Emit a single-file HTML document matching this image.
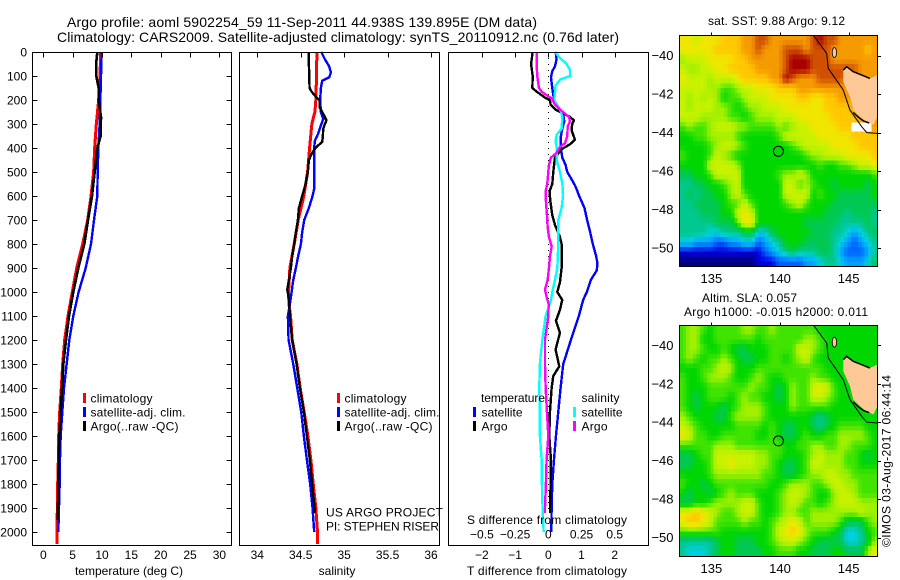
<!DOCTYPE html>
<html lang="en">
<head>
<meta charset="utf-8">
<title>Argo profile 5902254_59</title>
<style>
html,body{margin:0;padding:0;background:#fff;}
svg{display:block;}
text{font-family:"Liberation Sans",sans-serif;font-size:12px;fill:#000;}
.title{font-size:14px;}
.maplab{font-size:13px;}
</style>
</head>
<body>
<svg id="chart" xmlns="http://www.w3.org/2000/svg" width="900" height="580" viewBox="0 0 900 580">
  <defs>
    <clipPath id="clip-map1"><rect x="679.5" y="35.5" width="198" height="231"/></clipPath>
    <clipPath id="clip-map2"><rect x="679.5" y="325.5" width="198" height="231"/></clipPath>
  </defs>
  <rect x="0" y="0" width="900" height="580" fill="#fff"/>

  <text class="title" x="67" y="27" textLength="470">Argo profile: aoml 5902254_59 11-Sep-2011 44.938S 139.895E (DM data)</text>
  <text class="title" x="57" y="42" textLength="562">Climatology: CARS2009. Satellite-adjusted climatology: synTS_20110912.nc (0.76d later)</text>

  <g id="temp-panel"></g>
  <g id="sal-panel"></g>
  <g id="diff-panel"></g>
  <g id="map1"></g>
  <g id="map2"></g>

  <g>
    <rect x="83" y="393" width="3" height="10" fill="#ff0000"/>
    <rect x="83" y="407" width="3" height="10" fill="#0000ff"/>
    <rect x="83" y="421" width="3" height="10" fill="#000000"/>
    <text x="90.5" y="402.5" textLength="62">climatology</text>
    <text x="90.5" y="416.5" textLength="95">satellite-adj. clim.</text>
    <text x="90.5" y="430.5" textLength="88">Argo(..raw -QC)</text>
  </g>
  <g>
    <rect x="337" y="393" width="3" height="10" fill="#ff0000"/>
    <rect x="337" y="407" width="3" height="10" fill="#0000ff"/>
    <rect x="337" y="421" width="3" height="10" fill="#000000"/>
    <text x="344.5" y="402.5" textLength="62">climatology</text>
    <text x="344.5" y="416.5" textLength="95">satellite-adj. clim.</text>
    <text x="344.5" y="430.5" textLength="88">Argo(..raw -QC)</text>
  </g>
  <text x="326" y="516.5" textLength="117">US ARGO PROJECT</text>
  <text x="326" y="530.5" textLength="113">PI: STEPHEN RISER</text>

  <g>
    <text x="481" y="402" textLength="64">temperature</text>
    <text x="581.5" y="402" textLength="38">salinity</text>
    <rect x="473" y="407" width="3" height="10" fill="#0000ff"/>
    <rect x="473" y="421" width="3" height="10" fill="#000000"/>
    <rect x="573" y="407" width="3" height="10" fill="#00ffff"/>
    <rect x="573" y="421" width="3" height="10" fill="#ff00ff"/>
    <text x="481.5" y="416.5" textLength="41">satellite</text>
    <text x="481.5" y="430.5" textLength="26">Argo</text>
    <text x="581.5" y="416.5" textLength="41">satellite</text>
    <text x="581.5" y="430.5" textLength="26">Argo</text>
  </g>

  <text x="129" y="575" text-anchor="middle">temperature (deg C)</text>
  <text x="337" y="575" text-anchor="middle">salinity</text>
  <text x="467" y="575" textLength="160">T difference from climatology</text>
  <text x="467" y="524" textLength="160">S difference from climatology</text>

  <text x="708" y="25" textLength="137">sat. SST: 9.88  Argo: 9.12</text>
  <text x="702" y="302" textLength="95">Altim. SLA: 0.057</text>
  <text x="684" y="316" textLength="184">Argo h1000: -0.015 h2000: 0.011</text>
  <text transform="translate(890.5 547) rotate(-90)" textLength="172">©IMOS 03-Aug-2017 06:44:14</text>
</svg>
<script>
// ---------- axis ticks ----------
const depthTicks = [0,100,200,300,400,500,600,700,800,900,1000,1100,1200,1300,1400,1500,1600,1700,1800,1900,2000];
const tempTicks = [0,5,10,15,20,25,30];
const salTicks = [34,34.5,35,35.5,36];
const tDiffTicks = [-2,-1,0,1,2];
const sDiffTicks = [-0.5,-0.25,0,0.25,0.5];
const lonTicks = [135,140,145];
const latTicks1 = [-40,-42,-44,-46,-48,-50];
const latTicks2 = [-40,-42,-44,-46,-48,-50];

// ---------- temperature profiles ----------
const tempClimDepth = [0,100,200,300,400,500,600,700,800,900,1000,1100,1200,1300,1400,1500,1600,1700,1800,1900,2000,2050];
const tempClim = [9.77,9.66,9.43,9.03,8.75,8.58,8.13,7.56,6.71,5.69,4.94,4.21,3.64,3.30,3.07,2.79,2.62,2.56,2.45,2.39,2.33,2.33];
const tempSatDepth = [0,100,200,300,400,500,600,700,800,900,1000,1100,1200,1300,1400,1500,1600,1700,1800,1900,2000];
const tempSat = [9.95,9.83,9.72,9.6,9.38,9.26,9.2,8.64,8.13,7.22,6.02,5.11,4.43,3.98,3.53,3.24,2.96,2.84,2.79,2.67,2.56];
const tempArgoDepth = [0,50,100,150,200,270,350,400,500,600,700,800,900,1000,1100,1200,1300,1400,1500,1600,1700,1800,1900,1950];
const tempArgo = [9.2,9.0,9.03,9.43,9.43,9.83,9.77,9.2,8.75,8.3,7.62,6.99,5.97,5.11,4.38,3.87,3.41,3.19,2.96,2.73,2.62,2.56,2.50,2.45];

// ---------- salinity profiles ----------
const salClimDepth = [0,100,200,250,300,400,500,600,700,800,900,1000,1050,1100,1200,1300,1400,1500,1600,1700,1800,1900,2000,2050];
const salClim = [34.686,34.682,34.674,34.663,34.628,34.602,34.579,34.536,34.471,34.425,34.375,34.360,34.364,34.383,34.402,34.456,34.494,34.540,34.582,34.617,34.644,34.674,34.693,34.693];
const salSatDepth = [0,30,60,85,105,120,150,200,250,280,310,340,370,400,500,570,600,650,700,750,800,850,900,950,1000,1050,1100,1200,1300,1400,1500,1600,1700,1800,1900,2000];
const salSat = [34.736,34.778,34.828,34.847,34.828,34.747,34.732,34.724,34.732,34.759,34.728,34.701,34.663,34.655,34.655,34.655,34.636,34.594,34.540,34.517,34.502,34.471,34.444,34.414,34.395,34.375,34.352,34.360,34.414,34.460,34.506,34.536,34.571,34.609,34.636,34.655];
const salArgoDepth = [0,50,100,150,165,190,200,230,250,270,285,300,320,350,375,395,420,450,500,550,600,650,700,750,800,850,900,950,990,1020,1050,1100,1200,1300,1400,1500,1600,1700,1800,1900,1920];
const salArgo = [34.594,34.594,34.598,34.602,34.625,34.682,34.716,34.716,34.747,34.778,34.797,34.778,34.759,34.755,34.747,34.682,34.632,34.594,34.582,34.556,34.517,34.479,34.467,34.444,34.425,34.402,34.387,34.364,34.345,34.360,34.368,34.375,34.402,34.452,34.490,34.536,34.571,34.605,34.632,34.659,34.663];

// ---------- difference profiles ----------
const dTSatDepth = [0,30,60,80,105,150,180,210,240,260,290,320,350,400,440,470,500,530,560,600,650,700,750,800,850,880,910,950,1000,1033,1100,1200,1300,1400,1500,1600,1700,1800,1900,2000];
const dTSat = [0.22,0.25,0.20,0.12,0.08,0.12,0.15,0.20,0.35,0.45,0.48,0.42,0.38,0.38,0.42,0.52,0.57,0.70,0.82,0.93,1.09,1.17,1.26,1.34,1.44,1.48,1.46,1.28,1.16,1.05,0.92,0.68,0.45,0.37,0.30,0.23,0.17,0.12,0.10,0.09];
const dTArgoDepth = [0,50,100,150,165,190,200,220,240,270,285,300,325,365,385,405,440,500,550,580,620,680,720,770,800,900,960,1000,1033,1075,1120,1170,1240,1310,1350,1400,1500,1600,1700,1800,1900,1920];
const dTArgo = [-0.47,-0.52,-0.47,-0.48,-0.35,-0.10,0.05,0.07,0.22,0.65,0.77,0.72,0.70,0.80,0.65,0.40,0.20,0.15,0.12,0.04,0.06,0.12,0.20,0.35,0.40,0.40,0.35,0.27,0.42,0.35,0.23,0.35,0.22,0.33,0.15,0.10,0.05,0.03,0.08,0.07,0.05,0.05];
const dSSatDepth = [0,25,50,75,100,115,140,170,200,240,270,320,345,370,400,450,500,550,600,650,700,800,900,950,1000,1033,1100,1200,1300,1400,1500,1600,1700,1800,1900,2000];
const dSSat = [0.05,0.088,0.138,0.163,0.163,0.088,0.055,0.05,0.045,0.088,0.106,0.10,0.063,0.055,0.063,0.063,0.088,0.106,0.111,0.10,0.075,0.075,0.068,0.05,0.03,0.02,-0.02,-0.045,-0.063,-0.068,-0.063,-0.063,-0.05,-0.048,-0.043,-0.035];
const dSArgoDepth = [0,50,100,150,165,180,195,215,240,270,290,310,350,380,395,420,440,470,500,550,580,620,680,730,770,810,850,900,950,990,1020,1050,1100,1200,1300,1400,1500,1600,1700,1800,1900,1920];
const dSArgo = [-0.088,-0.088,-0.083,-0.07,-0.05,-0.013,0.03,0.045,0.088,0.156,0.163,0.146,0.143,0.126,0.088,0.063,0.02,0.005,0,-0.008,-0.02,-0.018,-0.01,-0.005,0.005,0.025,0.013,0.005,-0.005,-0.025,-0.013,0.003,0,-0.025,-0.025,-0.02,-0.01,0,-0.013,-0.018,-0.025,-0.025];
const zeroLineDepths = [0,1920];

// ---------- map grids: colour level per 0.5 degree cell, null = no data ----------
const sstLevels = [
[11,11,10,11,11,11,12,12,12,13,13,14,14,13,13,13,13,13,13,14,15,14,14,13,13,13,13,13,13],
[11,11,11,11,11,12,12,12,12,13,13,14,13,13,13,14,14,14,13,14,14,14,13,13,13,13,13,12,13],
[9,10,10,10,11,11,11,11,12,12,13,13,13,13,13,14,15,15,15,14,14,14,13,13,13,13,13,13,13],
[10,9,9,10,10,11,11,12,12,12,12,13,13,13,13,14,15,15,15,14,14,14,14,14,14,14,13,13,13],
[11,10,10,10,9,10,10,10,11,12,12,12,12,13,13,15,14,13,13,13,14,14,14,14,13,13,13,13,13],
[10,10,10,10,9,9,8,8,9,10,10,11,11,11,12,12,12,13,13,13,13,13,13,13,13,13,13,13,13],
[10,9,10,9,10,9,7,8,8,9,10,10,10,11,11,11,11,12,12,11,11,12,12,13,13,13,13,13,13],
[10,9,10,10,10,9,9,8,7,8,9,9,10,10,10,11,11,11,11,11,11,12,12,12,12,13,13,13,13],
[10,10,10,9,9,9,9,8,8,7,8,9,9,9,10,10,10,11,11,11,11,11,12,12,12,12,13,13,13],
[8,9,8,8,9,10,10,10,9,9,8,8,8,8,9,8,9,10,10,11,11,11,11,12,12,null,null,null,13],
[7,7,8,8,9,9,9,9,8,7,7,7,7,7,8,10,10,10,10,10,11,11,11,11,11,12,12,12,12],
[7,7,7,7,8,9,10,10,9,8,7,7,7,7,7,7,8,9,10,10,10,10,11,11,11,11,12,12,12],
[8,7,7,7,8,10,9,8,7,7,7,7,7,7,7,7,7,7,8,9,9,10,10,10,11,11,11,11,12],
[7,7,7,7,10,10,10,10,9,7,7,7,7,7,7,7,7,7,7,7,8,7,7,8,8,9,10,10,11],
[6,6,7,7,8,10,10,10,10,7,7,7,7,7,8,9,9,10,9,7,7,7,7,7,7,7,7,7,8],
[5,5,6,6,7,7,8,9,10,7,7,7,7,7,7,10,10,8,9,8,7,7,6,7,7,7,7,6,7],
[5,6,5,6,6,7,7,9,10,8,7,7,7,7,7,10,10,10,10,7,8,7,7,6,6,6,6,6,7],
[5,5,6,6,6,6,7,8,8,10,8,7,7,7,7,8,9,10,8,7,7,7,6,6,6,6,6,6,6],
[5,5,5,6,6,6,7,7,10,11,10,7,7,7,7,7,7,7,7,7,7,6,6,6,5,6,6,6,5],
[5,5,5,5,5,6,6,6,8,11,11,7,7,7,7,7,7,7,6,6,6,6,6,5,5,5,5,6,5],
[5,5,5,5,4,4,5,5,5,6,6,4,4,6,7,7,7,7,7,6,6,6,5,5,4,3,4,5,6],
[4,4,3,3,3,2,2,3,3,4,4,2,3,4,5,7,7,7,6,6,6,6,5,4,3,2,3,4,5],
[1,1,1,1,1,1,1,1,1,1,1,1,2,3,4,5,6,5,5,5,6,6,5,3,2,2,2,3,5],
[0,0,0,0,0,0,0,0,0,0,0,1,1,1,2,2,2,2,3,3,4,5,5,4,3,3,3,4,6]
];
const slaLevels = [
[8,9,9,8,7,8,8,8,8,9,9,8,8,9,8,8,8,8,8,8,7,7,7,7,7,7,7,7,7],
[8,9,9,7,7,8,8,8,8,8,8,7,8,8,8,8,8,8,9,9,8,7,7,7,7,7,7,7,7],
[8,9,9,8,7,7,8,7,6,6,7,7,7,8,8,8,8,10,10,9,8,7,7,7,7,7,7,7,7],
[8,9,8,7,8,8,9,8,7,6,6,7,7,8,8,7,8,9,10,8,7,7,7,7,7,7,7,7,7],
[7,7,7,8,8,9,10,9,7,7,7,8,8,8,8,8,8,8,8,8,8,7,7,7,7,7,7,7,7],
[8,7,7,8,9,9,9,8,7,7,8,9,8,7,7,8,8,8,8,9,8,8,7,7,7,7,7,7,7],
[8,7,7,7,8,8,8,8,8,8,9,8,8,7,6,7,9,8,8,10,11,10,8,7,7,7,7,7,7],
[8,7,6,7,8,8,8,7,8,9,8,8,7,7,6,7,9,8,8,10,10,9,8,7,7,7,7,7,7],
[8,7,6,7,7,7,6,7,8,9,9,9,8,7,7,7,9,8,8,8,8,8,7,7,7,7,7,7,7],
[9,8,7,7,7,6,6,8,9,9,9,9,8,7,7,7,7,7,7,6,5,6,7,7,7,7,7,7,7],
[10,9,8,7,7,7,7,7,8,8,8,8,7,8,7,6,6,7,7,6,5,6,7,8,8,8,8,7,7],
[11,10,8,8,7,7,8,8,8,8,8,7,7,8,7,6,6,7,8,7,7,8,8,9,9,9,9,8,7],
[8,8,8,8,8,9,9,9,8,8,8,8,8,8,8,7,7,8,8,9,9,8,8,9,9,8,8,8,7],
[6,6,7,8,8,10,10,10,10,10,10,9,9,8,8,7,7,7,8,9,10,9,9,9,8,8,7,6,7],
[6,6,7,7,8,10,10,11,10,10,10,9,9,8,7,6,6,7,8,10,10,9,9,9,8,8,7,7,7],
[7,7,7,7,8,9,9,9,9,9,9,9,8,8,7,6,6,7,8,9,9,10,10,9,9,8,8,8,8],
[8,7,7,6,7,8,8,8,8,8,8,8,8,7,7,8,9,9,9,8,8,9,10,10,9,9,8,8,8],
[7,6,7,7,6,7,8,9,8,8,8,7,7,7,8,9,10,10,9,8,7,7,9,10,10,9,8,8,8],
[6,6,7,7,8,9,9,9,9,10,10,8,7,7,8,9,10,9,8,8,7,8,9,10,10,10,9,9,9],
[11,11,12,11,10,9,8,8,9,10,10,8,7,7,8,9,9,8,8,9,9,9,9,9,9,9,10,9,9],
[11,12,12,11,10,8,8,8,8,9,8,8,7,8,9,10,11,10,8,9,9,9,9,8,6,6,6,8,9],
[8,8,8,8,8,8,7,7,7,7,7,7,7,8,10,11,12,11,9,8,8,8,7,6,4,4,5,7,8],
[5,5,5,5,5,6,7,7,6,6,6,7,7,8,9,10,10,9,8,7,6,6,6,6,4,4,5,6,9],
[5,4,4,4,5,6,7,7,6,6,6,6,7,7,8,8,8,7,7,6,6,6,7,7,6,6,6,9,11]
];
const levelColors = ['#00007f','#0000e0','#0060ff','#00a0ff','#00d0e0','#00c890','#00c850','#00d600','#40e400','#a0f000','#c8f200','#f0e600','#ffc800','#f59a00','#d05000','#a80000'];

// ---------- map geography (lon / lat) ----------
const coastLon = [142.43,143.4,143.52,144.61,145.1,145.95,146.32,147.1];
const coastLat = [-38.94,-39.88,-40.66,-41.79,-42.83,-43.69,-44.0,-44.04];
const tasLon = [144.61,144.85,145.34,146.55,147.1,147.1,146.8,146.1,145.34,145.1,144.61];
const tasLat = [-40.75,-40.57,-40.83,-41.18,-41.0,-43.17,-43.6,-43.34,-42.83,-42.13,-41.35];
const tasNorthLon = [144.61,144.85,145.34,146.0,146.55];
const tasNorthLat = [-40.75,-40.57,-40.83,-41.02,-41.18];
const tasSouthLon = [145.34,145.7,146.1,146.5];
const tasSouthLat = [-42.95,-43.2,-43.4,-43.5];
const floatLon = [139.88];
const floatLat = [-44.97];
const kingIslandLon = [143.96];
const kingIslandLat = [-39.84];

// ---------- axis functions ----------
const yDepth = d => 52 + 0.24 * d;
const xTemp = t => 43.3 + 5.87 * t;
const xSal = s => 257.3 + 86.85 * (s - 34);
const xDT = t => 548.3 + 33.2 * t;
const xDS = s => 548.3 + 132.8 * s;
const mapX = lon => 780 + (lon - 140) * 13.73;
const map1Y = lat => 55.7 - (lat + 40) * 19.23;
const map2Y = lat => 345.3 - (lat + 40) * 19.23;

const NS = 'http://www.w3.org/2000/svg';
function mk(tag, parent) {
  const el = document.createElementNS(NS, tag);
  parent.appendChild(el);
  return el;
}
function lineEl(parent, x1, y1, x2, y2) {
  const el = mk('line', parent);
  el.setAttribute('x1', x1);
  el.setAttribute('y1', y1);
  el.setAttribute('x2', x2);
  el.setAttribute('y2', y2);
  el.setAttribute('stroke', '#000');
  el.setAttribute('stroke-width', '1');
  el.setAttribute('shape-rendering', 'crispEdges');
  return el;
}
function labelEl(parent, x, y, str, anchor, cls) {
  const el = mk('text', parent);
  el.setAttribute('x', x);
  el.setAttribute('y', y);
  el.setAttribute('text-anchor', anchor);
  if (cls) el.setAttribute('class', cls);
  el.textContent = str;
  return el;
}
function frameEl(parent, x, y, w, h) {
  const el = mk('rect', parent);
  el.setAttribute('x', x);
  el.setAttribute('y', y);
  el.setAttribute('width', w);
  el.setAttribute('height', h);
  el.setAttribute('fill', 'none');
  el.setAttribute('stroke', '#000');
  el.setAttribute('stroke-width', '1');
  el.setAttribute('shape-rendering', 'crispEdges');
  return el;
}
function profileEl(parent, depths, values, xFn, color, width) {
  const el = mk('polyline', parent);
  el.setAttribute('points', depths.map((d, i) => xFn(values[i]).toFixed(2) + ',' + yDepth(d).toFixed(2)).join(' '));
  el.setAttribute('fill', 'none');
  el.setAttribute('stroke', color);
  el.setAttribute('stroke-width', width);
  el.setAttribute('stroke-linejoin', 'round');
  el.setAttribute('shape-rendering', 'crispEdges');
  return el;
}
const fmt = v => String(v).replace('-', '\u2212');

// ---------- temperature panel ----------
const tempPanel = document.getElementById('temp-panel');
const tClimLine = profileEl(tempPanel, tempClimDepth, tempClim, xTemp, '#ff0000', 3);


const tSatLine = profileEl(tempPanel, tempSatDepth, tempSat, xTemp, '#0000ff', 2.4);


const tArgoLine = profileEl(tempPanel, tempArgoDepth, tempArgo, xTemp, '#000000', 2.6);


const tempFrame = frameEl(tempPanel, 32.5, 52.5, 199, 493);


depthTicks.forEach(d => {
  const l = lineEl(tempPanel, 32.5, Math.round(yDepth(d)) + 0.5, 37.5, Math.round(yDepth(d)) + 0.5);
  
  
  const r = lineEl(tempPanel, 226.5, Math.round(yDepth(d)) + 0.5, 231.5, Math.round(yDepth(d)) + 0.5);
  
  
  const t = labelEl(tempPanel, 27, yDepth(d) + 4.5, d, 'end');
  
  
});
tempTicks.forEach(v => {
  const l = lineEl(tempPanel, Math.round(xTemp(v)) + 0.5, 52.5, Math.round(xTemp(v)) + 0.5, 57.5);
  
  
  const t = labelEl(tempPanel, xTemp(v), 559, fmt(v), 'middle');
  
  
});

// ---------- salinity panel ----------
const salPanel = document.getElementById('sal-panel');
const sClimLine = profileEl(salPanel, salClimDepth, salClim, xSal, '#ff0000', 3);


const sSatLine = profileEl(salPanel, salSatDepth, salSat, xSal, '#0000ff', 2.4);


const sArgoLine = profileEl(salPanel, salArgoDepth, salArgo, xSal, '#000000', 2.4);


const salFrame = frameEl(salPanel, 239.5, 52.5, 200, 493);


salTicks.forEach(v => {
  const l = lineEl(salPanel, Math.round(xSal(v)) + 0.5, 52.5, Math.round(xSal(v)) + 0.5, 57.5);
  
  
  const t = labelEl(salPanel, xSal(v), 559, fmt(v), 'middle');
  
  
});

// ---------- difference panel ----------
const diffPanel = document.getElementById('diff-panel');
const zeroLine = lineEl(diffPanel, xDT(0), yDepth(zeroLineDepths[0]), xDT(0), yDepth(zeroLineDepths[1]));
zeroLine.setAttribute('stroke-dasharray', '1 5');


const dtSatLine = profileEl(diffPanel, dTSatDepth, dTSat, xDT, '#0000ff', 2.4);


const dtArgoLine = profileEl(diffPanel, dTArgoDepth, dTArgo, xDT, '#000000', 2.4);


const dsSatLine = profileEl(diffPanel, dSSatDepth, dSSat, xDS, '#00ffff', 2.4);


const dsArgoLine = profileEl(diffPanel, dSArgoDepth, dSArgo, xDS, '#ff00ff', 2.4);


const diffFrame = frameEl(diffPanel, 448.5, 52.5, 200, 493);


tDiffTicks.forEach(v => {
  const l = lineEl(diffPanel, Math.round(xDT(v)) + 0.5, 52.5, Math.round(xDT(v)) + 0.5, 57.5);
  
  
  const t = labelEl(diffPanel, xDT(v), 559, fmt(v), 'middle');
  
  
});
sDiffTicks.forEach(v => {
  const t = labelEl(diffPanel, xDS(v), 538.5, fmt(v), 'middle');
  
  
});

// ---------- maps ----------
// Continuous colour scale across the palette stops.
function levelColor(v) {
  const t = Math.max(0, Math.min(levelColors.length - 1, v));
  const a = Math.floor(t);
  const b = Math.min(levelColors.length - 1, a + 1);
  const f = t - a;
  const ch = (hex, k) => parseInt(hex.substr(1 + k * 2, 2), 16);
  const mix = k => Math.round(ch(levelColors[a], k) * (1 - f) + ch(levelColors[b], k) * f);
  return 'rgb(' + mix(0) + ',' + mix(1) + ',' + mix(2) + ')';
}
// Bilinear sample of the level grid at fractional row/col; null cells fall back to nearest valid.
function sampleGrid(levels, rowF, colF) {
  const rows = levels.length, cols = levels[0].length;
  const r0 = Math.max(0, Math.min(rows - 1, Math.floor(rowF)));
  const c0 = Math.max(0, Math.min(cols - 1, Math.floor(colF)));
  const r1 = Math.min(rows - 1, r0 + 1), c1 = Math.min(cols - 1, c0 + 1);
  const fr = Math.max(0, Math.min(1, rowF - r0)), fc = Math.max(0, Math.min(1, colF - c0));
  const pts = [[r0, c0, (1 - fr) * (1 - fc)], [r0, c1, (1 - fr) * fc], [r1, c0, fr * (1 - fc)], [r1, c1, fr * fc]];
  let sum = 0, w = 0;
  pts.forEach(p => {
    const v = levels[p[0]][p[1]];
    if (v !== null) { sum += v * p[2]; w += p[2]; }
  });
  return w > 0 ? sum / w : 7;
}
function drawMap(groupId, levels, yFn, clipId, top, labelBase, latTicks, cellName) {
  const g = document.getElementById(groupId);
  const clipped = mk('g', g);
  clipped.setAttribute('clip-path', 'url(#' + clipId + ')');
  
  
  const SUB = 2;
  levels.forEach((row, j) => {
    row.forEach((v, i) => {
      if (v === null) return;
      for (let sj = 0; sj < SUB; sj++) {
        for (let si = 0; si < SUB; si++) {
          const lon0 = 132.67 + 0.5 * (i + si / SUB);
          const lat0 = -38.94 - 0.5 * (j + sj / SUB);
          const val = sampleGrid(levels, j + (sj + 0.5) / SUB - 0.5, i + (si + 0.5) / SUB - 0.5);
          const c = mk('rect', clipped);
          c.setAttribute('x', mapX(lon0).toFixed(2));
          c.setAttribute('y', yFn(lat0).toFixed(2));
          c.setAttribute('width', (mapX(lon0 + 0.5 / SUB) - mapX(lon0) + 0.6).toFixed(2));
          c.setAttribute('height', (yFn(lat0 - 0.5 / SUB) - yFn(lat0) + 0.6).toFixed(2));
          c.setAttribute('fill', levelColor(val));
          c.setAttribute('shape-rendering', 'crispEdges');
          
          
        }
      }
    });
  });
  const tas = mk('polygon', clipped);
  tas.setAttribute('points', tasLon.map((lo, i) => mapX(lo).toFixed(1) + ',' + yFn(tasLat[i]).toFixed(1)).join(' '));
  tas.setAttribute('fill', '#ffc896');
  
  
  const tasN = mk('polyline', clipped);
  tasN.setAttribute('points', tasNorthLon.map((lo, i) => mapX(lo).toFixed(1) + ',' + yFn(tasNorthLat[i]).toFixed(1)).join(' '));
  tasN.setAttribute('fill', 'none');
  tasN.setAttribute('stroke', '#000');
  tasN.setAttribute('stroke-width', '1.5');
  
  
  const tasS = mk('polyline', clipped);
  tasS.setAttribute('points', tasSouthLon.map((lo, i) => mapX(lo).toFixed(1) + ',' + yFn(tasSouthLat[i]).toFixed(1)).join(' '));
  tasS.setAttribute('fill', 'none');
  tasS.setAttribute('stroke', '#000');
  tasS.setAttribute('stroke-width', '1.5');
  
  
  const coast = mk('polyline', clipped);
  coast.setAttribute('points', coastLon.map((lo, i) => mapX(lo).toFixed(1) + ',' + yFn(coastLat[i]).toFixed(1)).join(' '));
  coast.setAttribute('fill', 'none');
  coast.setAttribute('stroke', '#000');
  coast.setAttribute('stroke-width', '1');
  
  
  const isl = mk('ellipse', clipped);
  isl.setAttribute('cx', mapX(kingIslandLon[0]).toFixed(1));
  isl.setAttribute('cy', yFn(kingIslandLat[0]).toFixed(1));
  isl.setAttribute('rx', '2.2');
  isl.setAttribute('ry', '5');
  isl.setAttribute('fill', '#ffc896');
  isl.setAttribute('stroke', '#000');
  isl.setAttribute('stroke-width', '0.8');
  
  
  const spot = mk('circle', clipped);
  spot.setAttribute('cx', mapX(floatLon[0]).toFixed(1));
  spot.setAttribute('cy', yFn(floatLat[0]).toFixed(1));
  spot.setAttribute('r', '5');
  spot.setAttribute('fill', 'none');
  spot.setAttribute('stroke', '#000');
  spot.setAttribute('stroke-width', '1');
  
  
  const fr = frameEl(g, 679.5, top, 198, 231);
  
  
  lonTicks.forEach(v => {
    const l = lineEl(g, Math.round(mapX(v)) + 0.5, top - 3, Math.round(mapX(v)) + 0.5, top);
    
    
    const t = labelEl(g, mapX(v), labelBase, v, 'middle', 'maplab');
    
    
  });
  latTicks.forEach(v => {
    const l = lineEl(g, 877.5, Math.round(yFn(v)) + 0.5, 881, Math.round(yFn(v)) + 0.5);
    
    
    const t = labelEl(g, 673.5, yFn(v) + 4.5, fmt(v), 'end', 'maplab');
    
    
  });
}
drawMap('map1', sstLevels, map1Y, 'clip-map1', 35.5, 283, latTicks1, 'sst-cell');
drawMap('map2', slaLevels, map2Y, 'clip-map2', 325.5, 573, latTicks2, 'sla-cell');
</script>
</body>
</html>
